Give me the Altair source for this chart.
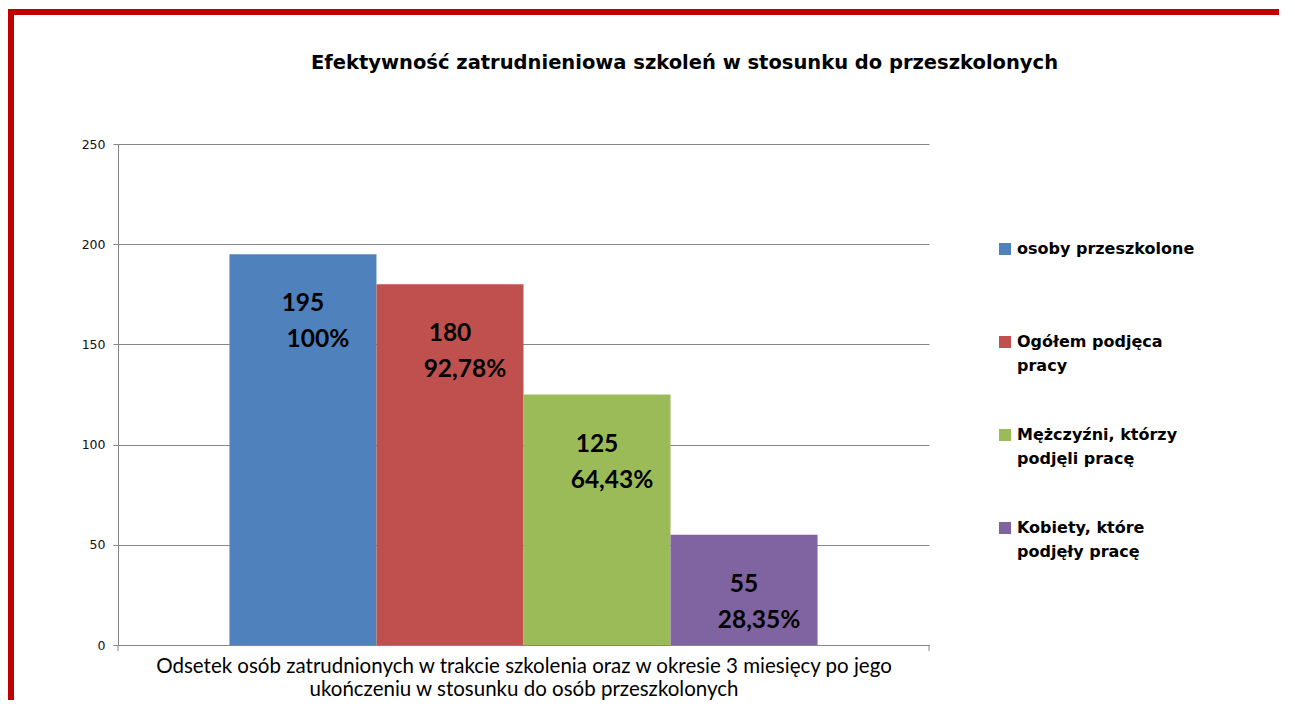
import altair as alt
import pandas as pd

# ---- data ----
series_labels = [
    "osoby przeszkolone|",
    "Ogółem podjęca|pracy",
    "Mężczyźni, którzy|podjęli pracę",
    "Kobiety, które|podjęły pracę",
]
values = [195, 180, 125, 55]
percents = ["100%", "92,78%", "64,43%", "28,35%"]
colors = ["#4F81BD", "#C0504D", "#9BBB59", "#8064A2"]
y_ticks = [0, 50, 100, 150, 200, 250]
category_title = [
    "Odsetek osób zatrudnionych w trakcie szkolenia oraz w okresie 3 miesięcy po  jego",
    "ukończeniu w stosunku do osób przeszkolonych",
]
chart_title = "Efektywność zatrudnieniowa szkoleń w stosunku do przeszkolonych"

df = pd.DataFrame({"series": series_labels, "value": values, "pct": percents})

grey = "#868686"

x_enc = alt.X(
    "series:N",
    sort=series_labels,
    scale=alt.Scale(paddingInner=0, paddingOuter=0.758),
    axis=alt.Axis(
        labels=False,
        ticks=False,
        title=category_title,
        titleFont="Lato",
        titleFontSize=20.5,
        titleFontWeight="normal",
        titleColor="black",
        titlePadding=11,
        titleLineHeight=23,
        domainColor=grey,
        domainWidth=1,
    ),
)
y_enc = alt.Y(
    "value:Q",
    scale=alt.Scale(domain=[0, 250], nice=False),
    axis=alt.Axis(
        values=y_ticks,
        title=None,
        grid=True,
        gridColor=grey,
        gridWidth=1,
        domainColor=grey,
        tickColor=grey,
        tickSize=5,
        labelFont="DejaVu Sans",
        labelFontSize=12.5,
        labelColor="#111111",
        labelPadding=8,
    ),
)

base = alt.Chart(df)

bars = base.mark_bar(size=147).encode(
    x=x_enc,
    y=y_enc,
    color=alt.Color(
        "series:N",
        sort=series_labels,
        scale=alt.Scale(domain=series_labels, range=colors),
        legend=alt.Legend(
            title=None,
            orient="none",
            legendX=879,
            legendY=97,
            symbolType="square",
            symbolSize=144,
            symbolStrokeWidth=0,
            labelFont="DejaVu Sans",
            labelFontSize=16,
            labelFontWeight="bold",
            labelColor="black",
            labelLimit=0,
            labelOffset=4,
            rowPadding=53,
            padding=0,
            labelExpr="split(datum.label, '|')",
        ),
    ),
)

txt_style = dict(font="Lato", fontWeight="bold", fontSize=24.5, color="black", baseline="middle", align="center")
num_labels = base.mark_text(dy=50, **txt_style).encode(
    x=alt.X("series:N", sort=series_labels), y="value:Q", text="value:Q"
)
pct_labels = base.mark_text(dy=86, dx=15, **txt_style).encode(
    x=alt.X("series:N", sort=series_labels), y="value:Q", text="pct:N"
)

# decorative frame and the two end ticks of the category axis
frame = alt.Chart(pd.DataFrame({"f": [0]})).mark_rect(
    filled=False, stroke="#C00000", strokeWidth=6
).encode(x=alt.value(-107), x2=alt.value(1400), y=alt.value(-132), y2=alt.value(900))
tick_l = alt.Chart(pd.DataFrame({"f": [0]})).mark_rule(color=grey).encode(
    x=alt.value(0), y=alt.value(501), y2=alt.value(507)
)
tick_r = alt.Chart(pd.DataFrame({"f": [0]})).mark_rule(color=grey).encode(
    x=alt.value(811), y=alt.value(501), y2=alt.value(507)
)

chart = (
    alt.layer(frame, bars, num_labels, pct_labels, tick_l, tick_r)
    .properties(
        width=811,
        height=501,
        padding={"left": 110, "top": 136, "right": 350, "bottom": 55},
        autosize=alt.AutoSizeParams(type="none"),
        background="white",
        title=alt.TitleParams(
            text=chart_title,
            font="DejaVu Sans",
            fontSize=19.5,
            fontWeight="bold",
            color="black",
            anchor="middle",
            dx=161,
            offset=-64,
        ),
    )
    .configure(style={"guide-label": {"lineHeight": 24}})
    .configure_view(stroke=None)
)

chart.save("out.html", embed_options={"renderer": "svg", "actions": False})
